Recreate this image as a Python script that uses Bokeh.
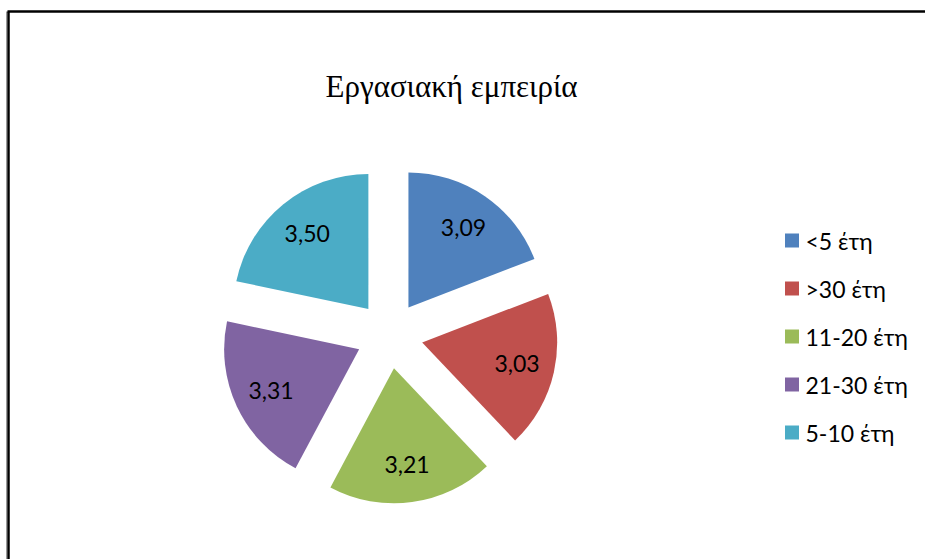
import math
from bokeh.plotting import figure
from bokeh.models import Range1d, ColumnDataSource
from bokeh.core.properties import value
from bokeh.embed import file_html
from bokeh.resources import INLINE

title = "Εργασιακή εμπειρία"
categories = ["<5 έτη", ">30 έτη", "11-20 έτη", "21-30 έτη", "5-10 έτη"]
values = [3.09, 3.03, 3.21, 3.31, 3.50]
labels = ["3,09", "3,03", "3,21", "3,31", "3,50"]
colors = ["#4F81BD", "#C0504D", "#9BBB59", "#8064A2", "#4BACC6"]

W, H = 925, 559
p = figure(width=W, height=H, output_backend="svg", toolbar_location=None,
           x_range=Range1d(0, W), y_range=Range1d(-H, 0),
           min_border=0, min_border_left=0, min_border_right=0,
           min_border_top=0, min_border_bottom=0)
p.axis.visible = False
p.grid.visible = False
p.outline_line_color = None
p.background_fill_color = "white"
p.border_fill_color = "white"

# frame
p.segment(x0=[7, 8], y0=[-11, -11], x1=[925, 8], y1=[-11, -H],
          line_color="black", line_width=2.5)
p.segment(x0=[6], y0=[-11], x1=[6], y1=[-H], line_color="#999999", line_width=1)

# pie
cx, cy, r, explode = 389.0, -334.6, 135.0, 33.5
total = sum(values)
start = math.pi / 2
xs, ys, sa, ea, lx, ly = [], [], [], [], [], []
for v in values:
    ang = 2 * math.pi * v / total
    end = start - ang
    mid = (start + end) / 2
    vx = cx + explode * math.cos(mid)
    vy = cy + explode * math.sin(mid)
    xs.append(vx); ys.append(vy)
    sa.append(end); ea.append(start)
    lx.append(vx + 0.72 * r * math.cos(mid))
    ly.append(vy + 0.72 * r * math.sin(mid))
    start = end

src = ColumnDataSource(dict(x=xs, y=ys, sa=sa, ea=ea, color=colors,
                            lx=lx, ly=ly, label=labels))
p.wedge(x="x", y="y", radius=r, start_angle="sa", end_angle="ea",
        fill_color="color", line_color=None, source=src)
p.text(x="lx", y="ly", text="label", source=src, text_font=value("Lato"),
       text_font_size="23px", text_align="center", text_baseline="middle",
       text_color="black")

# title
p.text(x=[451], y=[-86], text=[title], text_font=value("Liberation Serif"),
       text_font_size="31px", text_align="center", text_baseline="middle",
       text_color="black")

# legend
leg_y = [-(240 + 48 * i) for i in range(len(categories))]
p.rect(x=[791.5] * len(categories), y=leg_y, width=14, height=14,
       fill_color=colors, line_color=None)
p.text(x=[805] * len(categories), y=leg_y, text=categories,
       text_font=value("Lato"), text_font_size="23px", text_align="left",
       text_baseline="middle", text_color="black")

open("out.html", "w").write(file_html(p, INLINE))
